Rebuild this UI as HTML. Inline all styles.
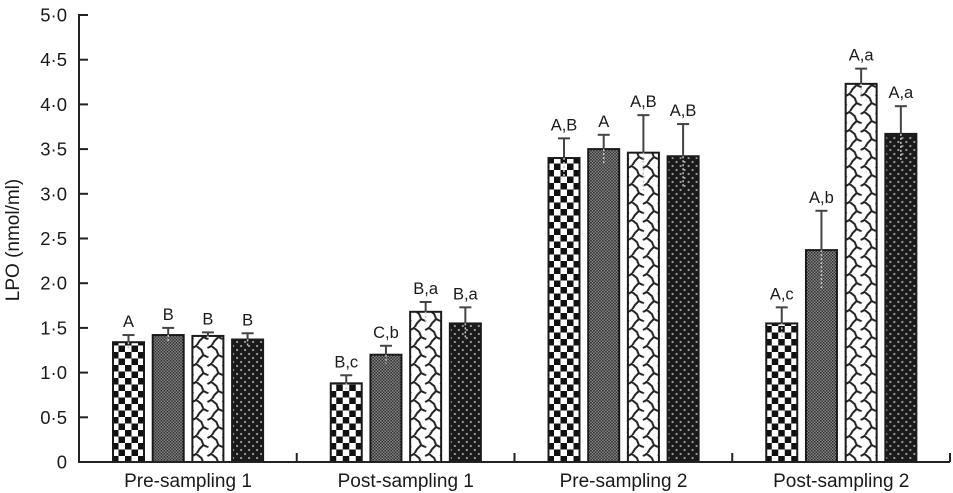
<!DOCTYPE html>
<html><head><meta charset="utf-8"><title>LPO chart</title>
<style>
html,body{margin:0;padding:0;background:#fff}
svg{display:block}
text{font-family:"Liberation Sans",sans-serif;fill:#1a1a1a}
</style></head>
<body>
<svg id="chart" width="953" height="493" viewBox="0 0 953 493" xmlns="http://www.w3.org/2000/svg">
<defs>
<pattern id="p0" width="13" height="13" patternUnits="userSpaceOnUse" patternTransform="translate(0 1)">
<rect width="13" height="13" fill="#fff"/><rect width="6.5" height="6.5" fill="#111"/><rect x="6.5" y="6.5" width="6.5" height="6.5" fill="#111"/>
</pattern>
<pattern id="p1" width="3" height="3" patternUnits="userSpaceOnUse">
<rect width="3" height="3" fill="#8a8a8a"/><rect width="1.5" height="1.5" fill="#2a2a2a"/><rect x="1.5" y="1.5" width="1.5" height="1.5" fill="#333"/>
</pattern>
<pattern id="p2" width="15" height="18" patternUnits="userSpaceOnUse" patternTransform="translate(1 3)">
<rect width="15" height="18" fill="#fff"/>
<path d="M0 3 L4 1 L9 5 L11 10 L15 12 M11 10 L7 14 L4 19 M15 3 L19 1 M-4 10 L0 12 L-4 16 M4 1 L3 -2" fill="none" stroke="#222" stroke-width="2"/>
</pattern>
<pattern id="p3" width="8" height="8" patternUnits="userSpaceOnUse">
<rect width="8" height="8" fill="#1a1a1a"/><circle cx="2" cy="2" r="1.1" fill="#a0a0a0"/><circle cx="6" cy="6" r="1.1" fill="#a0a0a0"/>
</pattern>
</defs>
<g id="plot"></g>
</svg>
<script>
const groups = ["Pre-sampling 1", "Post-sampling 1", "Pre-sampling 2", "Post-sampling 2"];
const yTicks = [0, 0.5, 1, 1.5, 2, 2.5, 3, 3.5, 4, 4.5, 5];
const yTickLabels = ["0", "0·5", "1·0", "1·5", "2·0", "2·5", "3·0", "3·5", "4·0", "4·5", "5·0"];
const series1 = [1.34, 0.88, 3.40, 1.55];
const series2 = [1.42, 1.20, 3.50, 2.37];
const series3 = [1.41, 1.68, 3.46, 4.23];
const series4 = [1.37, 1.55, 3.42, 3.67];
const errorTop1 = [1.42, 0.97, 3.62, 1.73];
const errorTop2 = [1.50, 1.30, 3.66, 2.81];
const errorTop3 = [1.45, 1.79, 3.88, 4.40];
const errorTop4 = [1.44, 1.73, 3.78, 3.98];
const letters1 = ["A", "B,c", "A,B", "A,c"];
const letters2 = ["B", "C,b", "A", "A,b"];
const letters3 = ["B", "B,a", "A,B", "A,a"];
const letters4 = ["B", "B,a", "A,B", "A,a"];

const allValues = [series1, series2, series3, series4];
const allErrors = [errorTop1, errorTop2, errorTop3, errorTop4];
const allLetters = [letters1, letters2, letters3, letters4];

const NS = "http://www.w3.org/2000/svg";
const plot = document.getElementById("plot");
const axisLeft = 79, axisRight = 950, bandW = (axisRight - axisLeft) / groups.length;
function yScale(v) { return 462 - v * 89.4; }
function xBand(g) { return axisLeft + g * bandW; }
function xBar(g, s) { return xBand(g) + 33 + s * 39.7; }
const barW = 33;

function make(tag, attrs, parent) {
  const el = document.createElementNS(NS, tag);
  for (const k in attrs) el.setAttribute(k, attrs[k]);
  (parent || plot).appendChild(el);
  return el;
}

allValues.forEach(function (vals, s) {
  vals.forEach(function (v, g) {
    const x = xBar(g, s), top = yScale(v), cap = yScale(allErrors[s][g]), cx = x + barW / 2;
    const low = yScale(2 * v - allErrors[s][g]);
    const bar = make("rect", {x: 1, y: top, width: barW - 2, height: yScale(0) - top, transform: "translate(" + x + " 0)", fill: "url(#p" + s + ")", stroke: "#1a1a1a", "stroke-width": 2});
    
    
    const lowerStem = make("line", {x1: cx, x2: cx, y1: top, y2: low, stroke: "#c8c8c8", "stroke-width": 1.5, "stroke-dasharray": "2 2"});
    
    
    const stem = make("line", {x1: cx, x2: cx, y1: cap, y2: top, stroke: "#444", "stroke-width": 2});
    
    
    const capLine = make("line", {x1: cx - 6, x2: cx + 6, y1: cap, y2: cap, stroke: "#444", "stroke-width": 2});
    
    
    const lab = make("text", {x: cx, y: cap - 8, "text-anchor": "middle", "font-size": 16.5});
    
    
    lab.textContent = allLetters[s][g];
  });
});

const yAxis = make("line", {x1: axisLeft, x2: axisLeft, y1: yScale(5) - 1, y2: yScale(0) + 1, stroke: "#222", "stroke-width": 2});


const xAxis = make("line", {x1: axisLeft, x2: axisRight, y1: yScale(0), y2: yScale(0), stroke: "#222", "stroke-width": 2});



yTicks.forEach(function (t, i) {
  const y = yScale(t);
  const tick = make("line", {x1: axisLeft, x2: axisLeft + 9, y1: y, y2: y, stroke: "#222", "stroke-width": 2});
  
  
  const lab = make("text", {x: 67, y: y + 6.5, "text-anchor": "end", "font-size": 18.5});
  
  
  lab.textContent = yTickLabels[i];
});

groups.forEach(function (name, g) {
  const tx = xBand(g + 1);
  const tick = make("line", {x1: tx, x2: tx, y1: yScale(0) - 9, y2: yScale(0), stroke: "#222", "stroke-width": 2});
  
  
  const lab = make("text", {x: xBand(g) + 109, y: 487, "text-anchor": "middle", "font-size": 19});
  
  
  lab.textContent = name;
});

const yTitle = make("text", {x: 0, y: 0, transform: "translate(19 240) rotate(-90)", "text-anchor": "middle", "font-size": 19});


yTitle.textContent = "LPO (nmol/ml)";
</script>
</body></html>
